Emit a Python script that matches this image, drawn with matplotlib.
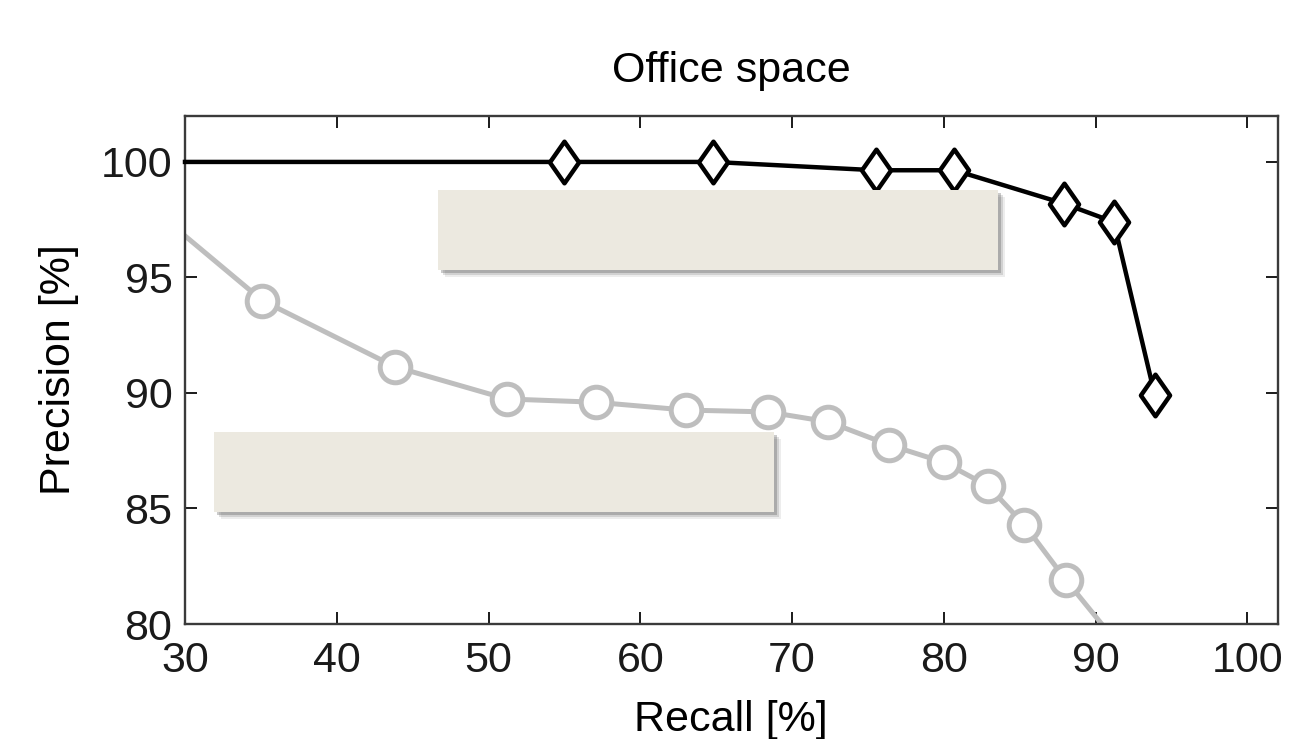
import matplotlib.pyplot as plt
from matplotlib.patches import Rectangle
from matplotlib.path import Path

plt.rcParams['font.family'] = ['Liberation Sans', 'DejaVu Sans']

# black series (diamonds)
recall_a = [30, 55.0, 64.8, 75.5, 80.7, 87.9, 91.2, 93.9]
precision_a = [100, 100, 100, 99.64, 99.64, 98.2, 97.4, 89.9]

# gray series (circles)
recall_b = [30, 35.1, 43.85, 51.2, 57.05, 63.0, 68.4, 72.4, 76.4, 80.0, 82.9, 85.3, 88.05, 90.4]
precision_b = [96.8, 94.0, 91.13, 89.74, 89.6, 89.26, 89.18, 88.75, 87.75, 87.0, 85.98, 84.3, 81.9, 80.0]

x_ticks = [30, 40, 50, 60, 70, 80, 90, 100]
y_ticks = [80, 85, 90, 95, 100]

# diamond a bit fatter than matplotlib's 'd'
diamond = Path([(0, 1), (0.7, 0), (0, -1), (-0.7, 0), (0, 1)],
               [Path.MOVETO, Path.LINETO, Path.LINETO, Path.LINETO, Path.CLOSEPOLY])

fig = plt.figure(figsize=(12.9, 7.39), dpi=100)
ax = fig.add_axes([0.1434, 0.1556, 0.8471, 0.6878])

ax.plot(recall_b, precision_b, color='#bebebe', lw=3.6, marker='o', ms=22,
        mfc='white', mec='#bebebe', mew=3.6, markevery=list(range(1, len(recall_b) - 1)),
        zorder=2)
ax.plot(recall_a, precision_a, color='black', lw=3.2, marker=diamond, ms=30,
        mfc='white', mec='black', mew=3.2, markevery=list(range(1, len(recall_a))),
        clip_on=False, zorder=3)

ax.set_xlim(30, 102)
ax.set_ylim(80, 102)
ax.set_xticks(x_ticks)
ax.set_yticks(y_ticks)
ax.tick_params(direction='in', length=8.5, width=1.4, top=True, right=True,
               labelsize=31, colors='#1a1a1a')
ax.tick_params(axis='x', pad=12)
ax.tick_params(axis='y', pad=9)
for s in ax.spines.values():
    s.set_linewidth(1.7)
    s.set_color('#3a3a3a')

ax.set_title('Office space', fontsize=31, pad=24)
ax.set_xlabel('Recall [%]', fontsize=31, labelpad=14)
ax.set_ylabel('Precision [%]', fontsize=31, labelpad=16)

# blank beige boxes with shadow
for x0, y0 in [(0.3395, 0.6346), (0.1659, 0.3072)]:
    w, h = 0.434, 0.1083
    for k, a in [(7, 0.10), (5, 0.18), (3, 0.30)]:
        fig.patches.append(Rectangle((x0 + k / 1290, y0 - k / 739), w, h,
                                     transform=fig.transFigure, color='#555555',
                                     alpha=a, lw=0, zorder=5))
    fig.patches.append(Rectangle((x0, y0), w, h, transform=fig.transFigure,
                                 color='#ece9e0', lw=0, zorder=6))

fig.savefig('out.png', dpi=100)
